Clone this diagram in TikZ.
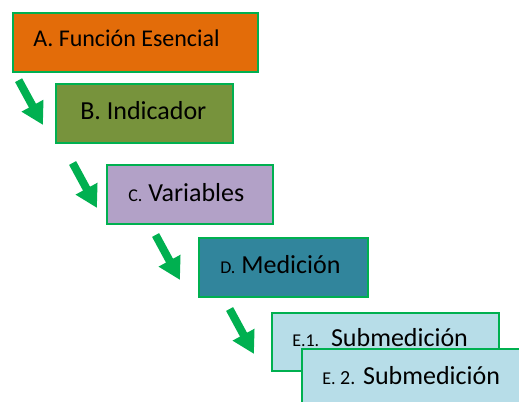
\documentclass[tikz,border=0pt]{standalone}
\usepackage{fontspec}
\setmainfont{Carlito}
\usetikzlibrary{arrows.meta}
\definecolor{edgegreen}{HTML}{00B050}
\definecolor{boxorange}{HTML}{E36C09}
\definecolor{boxolive}{HTML}{77933C}
\definecolor{boxlilac}{HTML}{B2A1C7}
\definecolor{boxteal}{HTML}{31859C}
\definecolor{boxsky}{HTML}{B7DDE8}
\tikzset{
  stagebox/.style={draw=edgegreen, line width=1.4pt, inner sep=0pt, anchor=north west},
  stagetext/.style={anchor=base west, inner sep=0pt, font=\fontsize{19.5}{22}\selectfont},
  bigfont/.style={font=\fontsize{18}{21}\selectfont},
  stepdown/.style={edgegreen, line width=6pt,
    -{Triangle[width=17.5pt,length=16.5pt]}, shorten <=0pt},
}
\newcommand{\smallpre}[1]{{\fontsize{13.5}{16}\selectfont #1}}
\begin{document}
\begin{tikzpicture}[x=0.75pt, y=-0.75pt]
  \useasboundingbox (0,0) rectangle (519,402);
  \clip (0,0) rectangle (519,402);

  % stage boxes
  \node[stagebox, fill=boxorange, minimum width=245*0.75pt, minimum height=59*0.75pt] (boxA) at (12,12) {};
  \node[stagebox, fill=boxolive,  minimum width=177*0.75pt, minimum height=59*0.75pt] (boxB) at (55,83) {};
  \node[stagebox, fill=boxlilac,  minimum width=166*0.75pt, minimum height=59*0.75pt] (boxC) at (106,164) {};
  \node[stagebox, fill=boxteal,   minimum width=169*0.75pt, minimum height=59*0.75pt] (boxD) at (198,237) {};
  \node[stagebox, fill=boxsky,    minimum width=227*0.75pt, minimum height=58*0.75pt] (boxE1) at (271,312) {};

  % labels
  \node[stagetext, bigfont] (txtA) at (33,46.7) {A. Función Esencial};
  \node[stagetext] (txtB) at (80,120) {B. Indicador};
  \node[stagetext] (txtC) at (128,201.7) {\smallpre{C.} Variables};
  \node[stagetext] (txtD) at (220,273.3) {\smallpre{D.} Medición};
  \node[stagetext] (txtE1) at (292,346.7) {\smallpre{E.1.}\ \ Submedición};

  % second sub-measurement box overlaps the first
  \node[stagebox, fill=boxsky, minimum width=227*0.75pt, minimum height=58*0.75pt] (boxE2) at (301,348) {};
  \node[stagetext] (txtE2) at (322,385) {\smallpre{E.}{\fontsize{15}{18}\selectfont\ 2.} Submedición};

  % step arrows
  \coordinate (t1) at (18.6,80.2);  \coordinate (h1) at (43,125);
  \coordinate (t2) at (72.6,163);   \coordinate (h2) at (97,208);
  \coordinate (t3) at (155.6,235);  \coordinate (h3) at (180,280);
  \coordinate (t4) at (229.6,309);  \coordinate (h4) at (254,354);
  \draw[stepdown] (t1) -- (h1);
  \draw[stepdown] (t2) -- (h2);
  \draw[stepdown] (t3) -- (h3);
  \draw[stepdown] (t4) -- (h4);
\end{tikzpicture}
\end{document}
